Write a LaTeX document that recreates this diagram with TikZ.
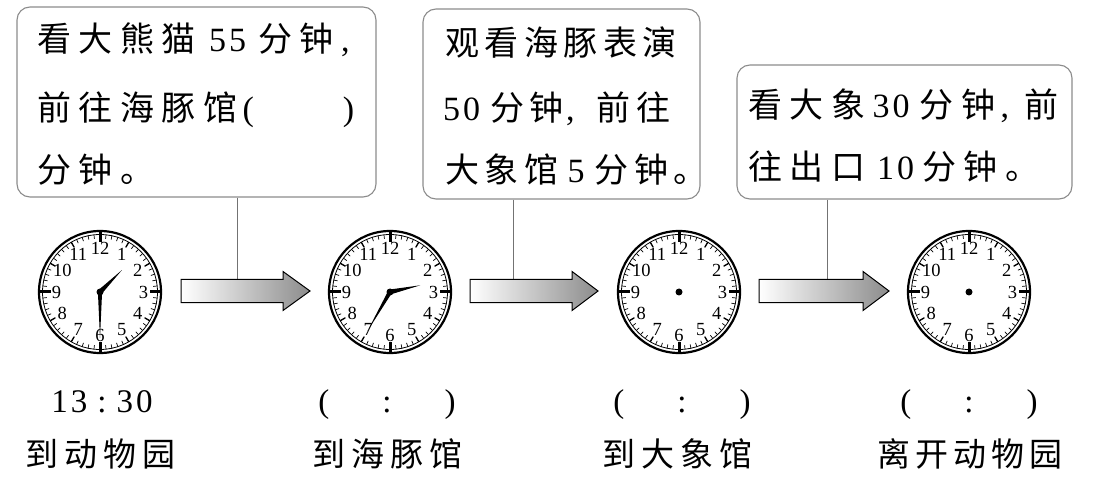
\documentclass[tikz,border=0pt]{standalone}
\usepackage{fontspec}
\setmainfont{Liberation Serif}
\newfontfamily\cjk{Noto Sans CJK SC}
\usetikzlibrary{calc}
\def\sptext#1#2{\def\curgap{#1}\sploop#2\relax}
\def\sploop#1{\ifx\relax#1\else#1\hspace{\curgap}\expandafter\sploop\fi}
\newcommand\clockface[2]{%
  \node[clockrim] (#1) at (#2) {};
  \begin{scope}[shift={(#2)}]
    \draw[line width=0.8pt] (0,0) circle (57.5);
    \foreach \i in {0,...,59} \draw[line width=0.7pt] ({\i*6}:57.5) -- ({\i*6}:53.5);
    \foreach \i in {0,...,11} \draw[line width=1.3pt] ({\i*30}:57.5) -- ({\i*30}:51.5);
    \foreach \i in {0,...,3} \draw[line width=3pt] ({\i*90}:61) -- ({\i*90}:49.5);
    \foreach \n in {1,...,12} \node[clocknum] (#1n\n) at ({90-\n*30}:43.5) {\n};
    \fill (0,0) circle (3.5);
  \end{scope}}
\newcommand\clockhand[4]{%
  \fill ($(#1)+({#2+90}:#4)$) -- ($(#1)+(#2:#3)$) -- ($(#1)+({#2-90}:#4)$) -- ($(#1)+({#2+180}:#4)$) -- cycle;}
\begin{document}
\begin{tikzpicture}[x=1pt,y=1pt,
  box/.style={draw=black!45, line width=1.1pt, rounded corners=13pt, inner sep=0pt},
  txt/.style={anchor=base west, inner sep=0pt, font=\fontsize{34}{34}\selectfont},
  lbl/.style={anchor=base, inner sep=0pt, font=\fontsize{33}{33}\selectfont},
  lblw/.style={anchor=base west, inner sep=0pt, font=\fontsize{33}{33}\selectfont},
  clockrim/.style={circle, draw, line width=2.2pt, minimum size=122pt, inner sep=0pt},
  clocknum/.style={inner sep=0pt, font=\fontsize{18.5}{18.5}\selectfont},
  leader/.style={draw=black!55, line width=0.8pt},
  arrowbody/.style={draw=black, line width=1pt, left color=white, right color=black!45}]
\useasboundingbox[fill=white] (0,0) rectangle (1093,480);

% boxes
\node[box, minimum width=359pt, minimum height=190pt] (b1) at (196.5,378) {};
\node[box, minimum width=277pt, minimum height=190pt] (b2) at (561.5,376) {};
\node[box, minimum width=335pt, minimum height=134pt] (b3) at (904.5,348) {};

% box 1 text
\node[txt] (t11) at (37,428) {{\cjk\sptext{7.5pt}{看大熊猫}}\hspace{6pt}\sptext{3pt}{55}\hspace{9pt}{\cjk\sptext{7.5pt}{分钟}},};
\node[txt] (t12) at (37,359) {{\cjk\sptext{7.5pt}{前往海豚馆}}\hspace{-2pt}(\hspace{89pt})};
\node[txt] (t13) at (37,297) {{\cjk\sptext{7.5pt}{分钟。}}};

% box 2 text
\node[txt] (t21) at (445,424) {{\cjk\sptext{5.5pt}{观看海豚表演}}};
\node[txt] (t22) at (443,359) {\sptext{3pt}{50}\hspace{7pt}{\cjk\sptext{5.5pt}{分钟}}\hspace{-3pt},\hspace{22pt}{\cjk\sptext{5.5pt}{前往}}};
\node[txt] (t23) at (445,297) {{\cjk\sptext{5.5pt}{大象馆}}\hspace{4pt}5\hspace{10pt}{\cjk\sptext{5.5pt}{分钟。}}};

% box 3 text
\node[txt] (t31) at (748,362) {{\cjk\sptext{7.5pt}{看大象}}\sptext{3pt}{30}\hspace{7pt}{\cjk\sptext{7.5pt}{分钟}}\hspace{-2pt},\hspace{15pt}{\cjk 前}};
\node[txt] (t32) at (748,300) {{\cjk\sptext{7.5pt}{往出口}}\hspace{4.5pt}\sptext{3pt}{10}\hspace{5pt}{\cjk\sptext{7.5pt}{分钟。}}};

% clocks
\clockface{c1}{100,188}
\clockface{c2}{390,188}
\clockface{c3}{679,188}
\clockface{c4}{969,188}
\clockhand{c1}{45}{31}{2.5}
\clockhand{c1}{-90}{46}{2.1}
\clockhand{c2}{12.5}{31}{2.5}
\clockhand{c2}{-120}{45}{2.1}

% leader coordinates
\coordinate (l1) at (237,200.5);
\coordinate (l2) at (513,200.5);
\coordinate (l3) at (827,200.5);
\draw[leader] (b1.south -| l1) -- (l1);
\draw[leader] (b2.south -| l2) -- (l2);
\draw[leader] (b3.south -| l3) -- (l3);

% arrows
\shadedraw[arrowbody] (181,177.5) -- (283,177.5) -- (283,169.5) -- (310,189) -- (283,208.5) -- (283,200.5) -- (181,200.5) -- cycle;
\shadedraw[arrowbody] (470,177.5) -- (572,177.5) -- (572,169.5) -- (598,189) -- (572,208.5) -- (572,200.5) -- (470,200.5) -- cycle;
\shadedraw[arrowbody] (759,177.5) -- (863,177.5) -- (863,169.5) -- (889,189) -- (863,208.5) -- (863,200.5) -- (759,200.5) -- cycle;

% time labels
\node[lbl] (tm1) at (102,68) {1\hspace{3pt}3\hspace{10pt}:\hspace{10pt}3\hspace{3pt}0};
\node[lbl] (tm2) at (387,68) {(\hspace{53pt}:\hspace{53pt})};
\node[lbl] (tm3) at (682,68) {(\hspace{53pt}:\hspace{53pt})};
\node[lbl] (tm4) at (969,68) {(\hspace{53pt}:\hspace{53pt})};

% place labels
\node[lblw] (p1) at (25,14) {{\cjk\sptext{6pt}{到动物园}}};
\node[lblw] (p2) at (312,14) {{\cjk\sptext{6pt}{到海豚馆}}};
\node[lblw] (p3) at (602,14) {{\cjk\sptext{6pt}{到大象馆}}};
\node[lblw] (p4) at (877,14) {{\cjk\sptext{5pt}{离开动物园}}};
\end{tikzpicture}
\end{document}
